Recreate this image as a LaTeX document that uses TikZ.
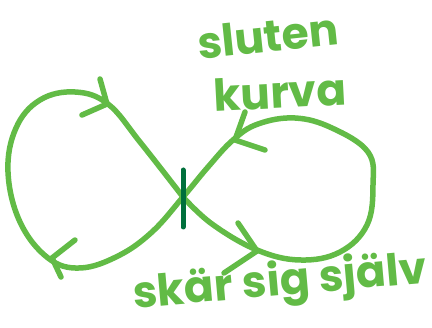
\documentclass[tikz,border=0pt]{standalone}
\usepackage{fontspec}
\setmainfont{Poppins}
\definecolor{lgreen}{HTML}{62BB46}
\definecolor{dgreen}{HTML}{00703C}
\begin{document}
\begin{tikzpicture}[x=1pt,y=-1pt,
  curve/.style={draw=lgreen,line width=5.5pt,line cap=round,line join=round},
  chev/.style={draw=lgreen,line width=5.5pt,line cap=round,line join=round},
  tick/.style={draw=dgreen,line width=5pt,line cap=round},
  hand/.style={text=lgreen,font=\fontsize{44}{44}\selectfont\bfseries,inner sep=0pt}]
\useasboundingbox (0,0) rectangle (432,328);
\coordinate (x) at (183,197);
\coordinate (xt) at (183,170);
\coordinate (xb) at (183,227);
\draw[curve] plot[smooth,tension=0.65] coordinates {(183,197) (212,224) (257,250) (300,260) (340,252) (367,225) (373,185) (368,152) (332,128) (295,118) (258,124) (233,140) (208,167) (183,197) (152,232) (118,256) (80,268) (48,258) (20,222) (8,172) (16,128) (40,100) (75,92) (108,104) (140,142) (183,197)};
% arrowheads
\draw[chev] (100,79) -- (107,104) -- (82,115);
\draw[chev] (75,240) -- (52,258) -- (61,277);
\draw[chev] (245,112) -- (235,140) -- (265,150);
\draw[chev] (238,223) -- (257,251) -- (224,273);
% crossing tick
\draw[tick] (xt) -- (xb);
% labels
\node[hand,rotate=6] (sl) at (268,36) {sluten};
\node[hand,rotate=3] (ku) at (280,92) {kurva};
\node[hand,rotate=5] (sk) at (280,284) {skär sig själv};
\end{tikzpicture}
\end{document}
